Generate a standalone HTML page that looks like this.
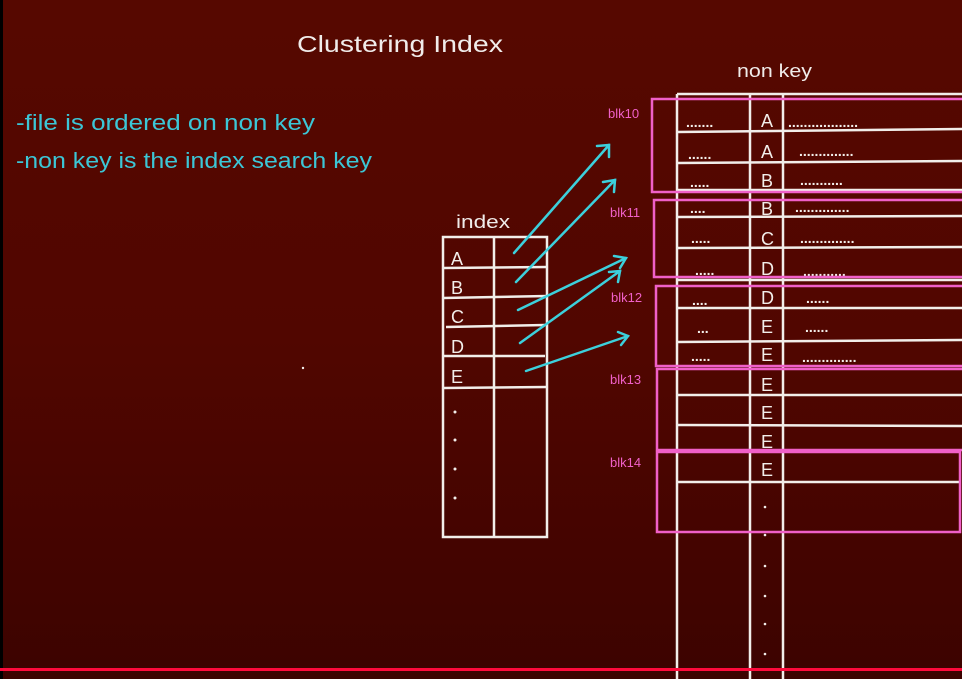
<!DOCTYPE html>
<html><head><style>
html,body{margin:0;padding:0;background:#000}
svg{display:block}
text{font-family:"Liberation Sans",sans-serif}
</style></head><body>
<svg width="962" height="679" viewBox="0 0 962 679" xmlns="http://www.w3.org/2000/svg">
<defs>
<linearGradient id="bg" x1="0" y1="0" x2="0" y2="1">
<stop offset="0" stop-color="#560800"/>
<stop offset="0.5" stop-color="#510600"/>
<stop offset="1" stop-color="#3c0300"/>
</linearGradient>
</defs>
<rect width="962" height="679" fill="#000"/>
<rect x="3" y="0" width="959" height="679" fill="url(#bg)"/>
<text x="297" y="52" font-size="23" fill="#f0ecea" textLength="206" lengthAdjust="spacingAndGlyphs">Clustering Index</text>
<g fill="#3cc6d6" font-size="22">
<text x="16" y="130" textLength="299" lengthAdjust="spacingAndGlyphs">-file is ordered  on non key</text>
<text x="16" y="168" textLength="356" lengthAdjust="spacingAndGlyphs">-non key is the index search key</text>
</g>
<text x="737" y="77" font-size="18" fill="#f0ecea" textLength="75" lengthAdjust="spacingAndGlyphs">non key</text>
<text x="456" y="228" font-size="18" fill="#f0ecea" textLength="54" lengthAdjust="spacingAndGlyphs">index</text>

<!-- index table -->
<g stroke="#f2eeea" stroke-width="2.5" fill="none">
<rect x="443" y="237" width="104" height="300"/>
<line x1="494" y1="237" x2="494" y2="537"/>
<line x1="443" y1="268" x2="547" y2="267"/>
<line x1="443" y1="298" x2="547" y2="296"/>
<line x1="446" y1="327" x2="545" y2="325"/>
<line x1="443" y1="356" x2="545" y2="356"/>
<line x1="443" y1="388" x2="547" y2="387"/>
</g>
<g fill="#f2eeea" font-size="18">
<text x="451" y="265">A</text><text x="451" y="294">B</text><text x="451" y="323">C</text>
<text x="451" y="353">D</text><text x="451" y="383">E</text>
</g>
<g fill="#f2eeea">
<circle cx="455" cy="412" r="1.5"/><circle cx="455" cy="440" r="1.5"/><circle cx="455" cy="469" r="1.5"/><circle cx="455" cy="498" r="1.5"/>
</g>

<!-- main table -->
<g stroke="#f2eeea" stroke-width="2.5" fill="none">
<line x1="677" y1="94" x2="962" y2="94"/>
<line x1="677" y1="94" x2="677" y2="679"/>
<line x1="750" y1="94" x2="750" y2="679"/>
<line x1="783" y1="94" x2="783" y2="679"/>
<line x1="677" y1="132" x2="962" y2="129"/>
<line x1="677" y1="163" x2="962" y2="161"/>
<line x1="677" y1="190" x2="962" y2="190"/>
<line x1="677" y1="217" x2="962" y2="216"/>
<line x1="677" y1="248" x2="962" y2="247"/>
<line x1="677" y1="280" x2="962" y2="280"/>
<line x1="677" y1="308" x2="962" y2="308"/>
<line x1="677" y1="342" x2="962" y2="340"/>
<line x1="677" y1="395" x2="962" y2="395"/>
<line x1="677" y1="425" x2="962" y2="426"/>
<line x1="677" y1="482" x2="960" y2="482"/>
</g>
<g fill="#f2eeea" font-size="18">
<text x="761" y="127">A</text><text x="761" y="158">A</text><text x="761" y="187">B</text>
<text x="761" y="215">B</text><text x="761" y="245">C</text><text x="761" y="275">D</text>
<text x="761" y="304">D</text><text x="761" y="333">E</text><text x="761" y="361">E</text>
<text x="761" y="391">E</text><text x="761" y="419">E</text><text x="761" y="448">E</text>
<text x="761" y="476">E</text>
</g>
<g fill="#f2eeea" font-size="14" font-weight="bold">
<text x="686" y="127">.......</text><text x="688" y="159">......</text><text x="690" y="187">.....</text>
<text x="690" y="213">....</text><text x="691" y="243">.....</text><text x="695" y="275">.....</text>
<text x="692" y="305">....</text><text x="697" y="333">...</text><text x="691" y="361">.....</text>
<text x="788" y="127">..................</text><text x="799" y="156">..............</text>
<text x="800" y="185">...........</text><text x="795" y="212">..............</text>
<text x="800" y="243">..............</text><text x="803" y="276">...........</text>
<text x="806" y="303">......</text><text x="805" y="332">......</text>
<text x="802" y="362">..............</text>
</g>
<g fill="#f2eeea">
<circle cx="765" cy="507" r="1.3"/><circle cx="765" cy="535" r="1.3"/><circle cx="765" cy="566" r="1.3"/>
<circle cx="765" cy="596" r="1.3"/><circle cx="765" cy="624" r="1.3"/><circle cx="765" cy="654" r="1.3"/>
<circle cx="303" cy="368" r="1.2"/>
</g>

<!-- pink blocks -->
<g stroke="#f060c8" stroke-width="2.5" fill="none">
<path d="M962 99 L652 99 L652 192 L962 192"/>
<path d="M962 200 L654 200 L654 277 L962 277"/>
<path d="M962 286 L656 286 L656 366 L962 366"/>
<path d="M962 369 L657 369 L657 450 L962 450"/>
<rect x="657" y="452" width="303" height="80"/>
</g>
<g fill="#f060c8" font-size="13">
<text x="608" y="118">blk10</text><text x="610" y="217">blk11</text><text x="611" y="302">blk12</text>
<text x="610" y="384">blk13</text><text x="610" y="467">blk14</text>
</g>

<!-- arrows -->
<g stroke="#3cd0dc" stroke-width="2.5" fill="none" stroke-linecap="round">
<line x1="514" y1="253" x2="609" y2="145"/><path d="M597 146 L609 145 L609 157"/>
<line x1="516" y1="282" x2="615" y2="180"/><path d="M603 182 L615 180 L614 192"/>
<line x1="518" y1="310" x2="626" y2="258"/><path d="M614 256 L626 258 L620 268"/>
<line x1="520" y1="343" x2="620" y2="271"/><path d="M609 272 L620 271 L618 282"/>
<line x1="526" y1="371" x2="628" y2="336"/><path d="M618 332 L628 336 L621 345"/>
</g>

<rect x="0" y="668" width="962" height="3" fill="#ff0a3c"/>
</svg>
</body></html>
